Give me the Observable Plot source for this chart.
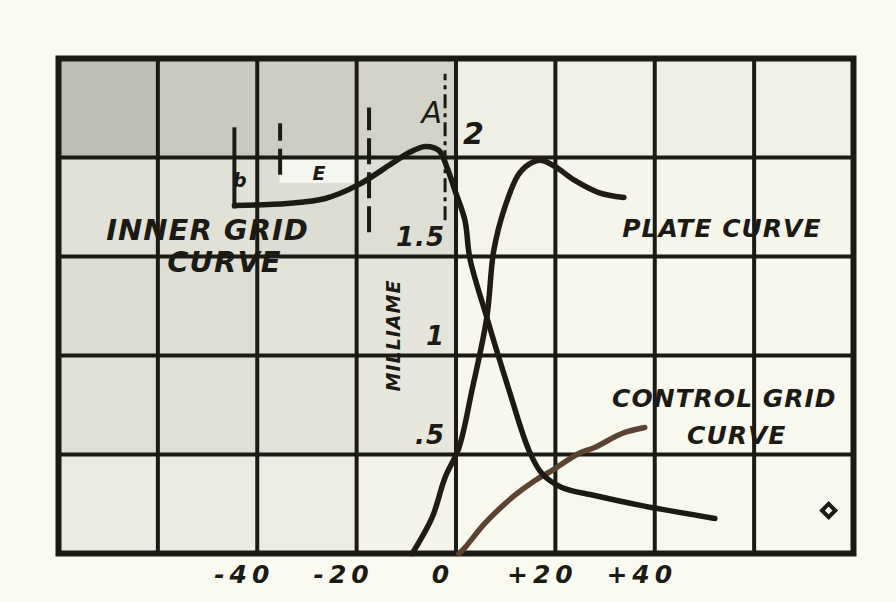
<!DOCTYPE html>
<html>
<head>
<meta charset="utf-8">
<script src="https://cdn.jsdelivr.net/npm/d3@7"></script>
<script src="https://cdn.jsdelivr.net/npm/@observablehq/plot@0.6"></script>
<style>
  html, body { margin: 0; padding: 0; background: #fbfaf0; }
  #chart { width: 896px; height: 602px; }
  #chart svg text { letter-spacing: 1px; }
  #chart g[aria-label="x-axis tick label"] text { letter-spacing: 5px; }
</style>
</head>
<body>
<div id="chart"></div>
<script>
// ---- data ----
const xTicks = [-40, -20, 0, 20, 40];
const yTicks = [0.5, 1, 1.5, 2];
const yTickLabels = [".5", "1", "1.5", "2"];

// inner grid curve (black)
const innerX = [-44.6, -34.0, -26.3, -19.5, -12.9, -9.4, -6.2, -3.4, -1.8, -0.2, 1.8, 2.8, 6.2, 10.7, 14.7, 17.3, 21.3, 27.9, 37.4, 52.1];
const innerY = [1.758, 1.768, 1.793, 1.864, 1.970, 2.025, 2.056, 2.035, 1.949, 1.833, 1.682, 1.49, 1.192, 0.823, 0.520, 0.404, 0.333, 0.293, 0.242, 0.177];

// plate curve (black)
const plateX = [-8.8, -4.8, -2.2, 0.6, 3.2, 6.2, 7.6, 9.8, 12.7, 15.3, 17.3, 19.9, 23.9, 28.7, 33.8];
const plateY = [0.0, 0.182, 0.384, 0.535, 0.823, 1.192, 1.530, 1.747, 1.919, 1.975, 1.985, 1.955, 1.884, 1.823, 1.798];

// control grid curve (brown)
const controlX = [0.6, 1.8, 5.8, 11.3, 15.9, 19.3, 24.7, 27.9, 33.4, 38.0];
const controlY = [0.0, 0.030, 0.152, 0.283, 0.369, 0.419, 0.505, 0.535, 0.606, 0.636];

// shading tone of each grid cell, rows from top (2.0–2.5) to bottom (0–0.5)
const cellTones = [
  [0.85, 0.70, 0.66, 0.58, 0.16, 0.14, 0.18, 0.14],
  [0.36, 0.36, 0.42, 0.40, 0.08, 0.07, 0.07, 0.07],
  [0.42, 0.40, 0.34, 0.30, 0.05, 0.05, 0.04, 0.04],
  [0.38, 0.38, 0.33, 0.28, 0.04, 0.03, 0.03, 0.03],
  [0.22, 0.22, 0.20, 0.10, 0.03, 0.03, 0.03, 0.03]
];

// annotation texts and positions (data units)
const innerLabels = [
  {text: "INNER GRID", x: -50.0, y: 1.631},
  {text: "CURVE", x: -46.6, y: 1.470}
];
const curveLabels = [
  {text: "PLATE CURVE", x: 53.5, y: 1.641},
  {text: "CONTROL GRID", x: 54.0, y: 0.778},
  {text: "CURVE", x: 56.5, y: 0.591}
];
const pointLabels = [
  {text: "A", x: -4.8, y: 2.222}
];
const smallLabels = [
  {text: "E", x: -27.5, y: 1.919},
  {text: "b", x: -43.4, y: 1.884}
];
const axisTitle = [{text: "MILLIAME", x: -12.5, y: 1.101}];
const solidGuides = [{x: -44.6, y1: 1.74, y2: 2.15}];
const dashedGuides = [
  {x: -35.4, y1: 1.91, y2: 2.17},
  {x: -17.5, y1: 1.62, y2: 2.25}
];
const dottedGuides = [{x: -2.2, y1: 1.68, y2: 2.42}];
const whitePatch = [{x1: -35.4, x2: -20.5, y1: 1.87, y2: 1.99}];
const cornerMark = [{x: 75.0, y: 0.217}];

// ---- derived tables ----
const toPts = (xs, ys) => xs.map((x, i) => ({x, y: ys[i]}));
const inner = toPts(innerX, innerY);
const plate = toPts(plateX, plateY);
const control = toPts(controlX, controlY);
const cells = [];
cellTones.forEach((row, r) => row.forEach((t, c) => cells.push({
  x1: -80 + 20 * c, x2: -60 + 20 * c, y1: 2.0 - 0.5 * r, y2: 2.5 - 0.5 * r, tone: t
})));
const yLeft = yTicks.map((v, i) => ({y: v, label: yTickLabels[i]})).filter(d => d.y < 2);
const yRight = yTicks.map((v, i) => ({y: v, label: yTickLabels[i]})).filter(d => d.y >= 2);

const ink = "#1b1a15";
const shade = d3.interpolateRgb("#fbfaf0", "#b5b5ad");
const hand = {fontFamily: "DejaVu Sans", fontWeight: "bold", fontStyle: "italic", fill: ink};

const chart = Plot.plot({
  width: 896,
  height: 602,
  marginLeft: 58,
  marginRight: 43,
  marginTop: 58,
  marginBottom: 49,
  x: {domain: [-80, 80]},
  y: {domain: [0, 2.5], axis: null},
  style: {background: "transparent", overflow: "visible"},
  marks: [
    Plot.rect(cells, {x1: "x1", x2: "x2", y1: "y1", y2: "y2", fill: d => shade(d.tone)}),
    Plot.rect(whitePatch, {x1: "x1", x2: "x2", y1: "y1", y2: "y2", fill: "#f6f6f0"}),
    Plot.gridX({ticks: [-60, -40, -20, 0, 20, 40, 60], stroke: ink, strokeOpacity: 1, strokeWidth: 4}),
    Plot.gridY({ticks: yTicks, stroke: ink, strokeOpacity: 1, strokeWidth: 4}),
    Plot.frame({stroke: ink, strokeWidth: 6}),
    Plot.ruleX(solidGuides, {x: "x", y1: "y1", y2: "y2", stroke: ink, strokeWidth: 4}),
    Plot.ruleX(dashedGuides, {x: "x", y1: "y1", y2: "y2", stroke: ink, strokeWidth: 4, strokeDasharray: "26,8"}),
    Plot.ruleX(dottedGuides, {x: "x", y1: "y1", y2: "y2", stroke: ink, strokeWidth: 3, strokeDasharray: "14,5,4,5"}),
    Plot.line(control, {x: "x", y: "y", curve: "catmull-rom", stroke: "#5a4330", strokeWidth: 5.5, strokeLinecap: "round"}),
    Plot.line(plate, {x: "x", y: "y", curve: "catmull-rom", stroke: "#1f1c16", strokeWidth: 5.5, strokeLinecap: "round"}),
    Plot.line(inner, {x: "x", y: "y", curve: "catmull-rom", stroke: ink, strokeWidth: 5.5, strokeLinecap: "round"}),
    Plot.dot(cornerMark, {x: "x", y: "y", symbol: "diamond2", r: 6, stroke: ink, strokeWidth: 4}),
    Plot.text(innerLabels, {x: "x", y: "y", text: "text", fontSize: 29, ...hand}),
    Plot.text(curveLabels, {x: "x", y: "y", text: "text", fontSize: 25, ...hand}),
    Plot.text(pointLabels, {x: "x", y: "y", text: "text", fontSize: 30, fontStyle: "italic", fontFamily: "DejaVu Sans", fill: ink}),
    Plot.text(smallLabels, {x: "x", y: "y", text: "text", fontSize: 19, ...hand}),
    Plot.text(axisTitle, {x: "x", y: "y", text: "text", fontSize: 19, rotate: -90, ...hand}),
    Plot.text(yLeft, {x: 0, y: "y", text: "label", textAnchor: "end", dx: -11, dy: -19, fontSize: 26, ...hand}),
    Plot.text(yRight, {x: 0, y: "y", text: "label", textAnchor: "start", dx: 7, dy: -23, fontSize: 30, ...hand}),
    Plot.axisX({
      ticks: xTicks,
      tickFormat: d => d > 0 ? "+" + d : d < 0 ? "-" + Math.abs(d) : "0",
      tickSize: 0,
      tickPadding: 12,
      dx: -13,
      fontSize: 25,
      fontFamily: "DejaVu Sans",
      fontWeight: "bold",
      fontStyle: "italic",
      fill: ink,
      label: null
    })
  ]
});
document.getElementById("chart").append(chart);
</script>
</body>
</html>
